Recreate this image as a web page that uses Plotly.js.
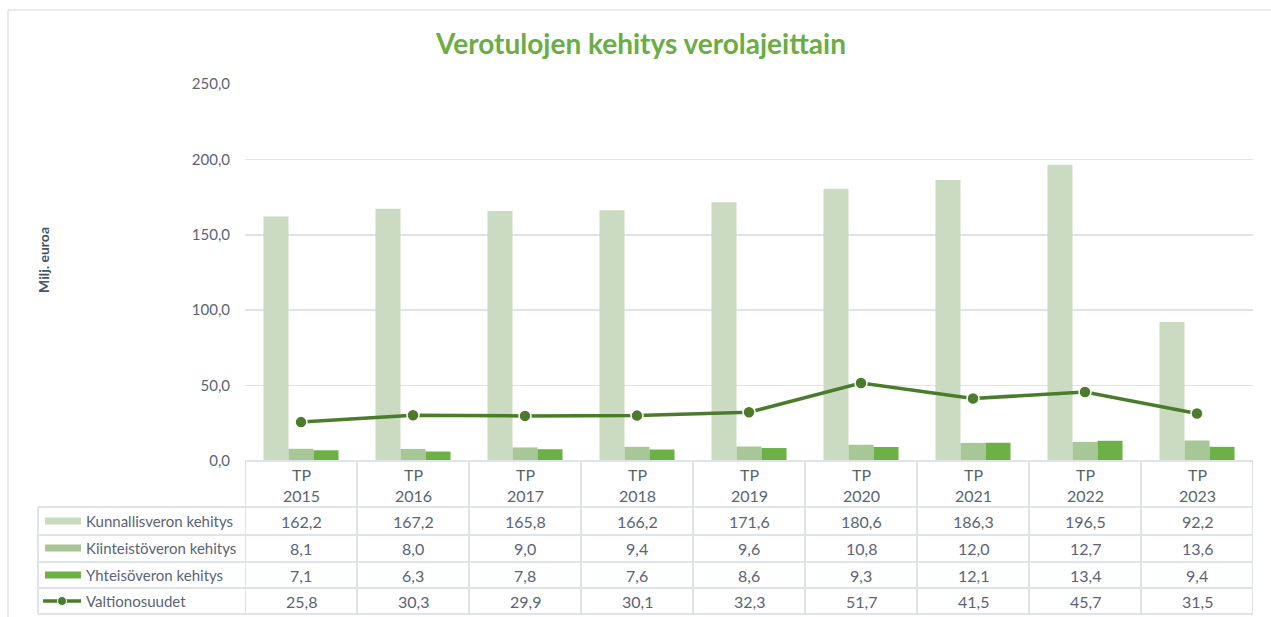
<!DOCTYPE html>
<html><head><meta charset="utf-8">
<script src="https://cdn.plot.ly/plotly-3.0.1.min.js"></script>
<style>html,body{margin:0;padding:0;background:#fff}#chart{width:1271px;height:617px}</style>
</head><body><div id="chart"></div><script>
// ---- data ----
const years = ['2015','2016','2017','2018','2019','2020','2021','2022','2023'];
const categoryPrefix = 'TP';
const kunnallisvero = [162.2,167.2,165.8,166.2,171.6,180.6,186.3,196.5,92.2];
const kiinteistovero = [8.1,8.0,9.0,9.4,9.6,10.8,12.0,12.7,13.6];
const yhteisovero = [7.1,6.3,7.8,7.6,8.6,9.3,12.1,13.4,9.4];
const valtionosuudet = [25.8,30.3,29.9,30.1,32.3,51.7,41.5,45.7,31.5];
const seriesNames = ['Kunnallisveron kehitys','Kiinteistöveron kehitys','Yhteisöveron kehitys','Valtionosuudet'];
const yTicks = [0,50,100,150,200,250];

// ---- style ----
const W = 1271, H = 617;
const L = 245, R = 1253, T = 84, B = 461;
const FONT = 'Lato, "Open Sans", sans-serif';
const TXT = '#5a6475';
const GRID = '#dfe3ea';
const cKun = '#cbdbc1', cKii = '#a7c796', cYht = '#6cb046', cVal = '#4b7c2c';
const px2x = p => (p - L) / (R - L);
const py2y = p => (B - p) / (B - T);
const fmt = v => v.toFixed(1).replace('.', ',');

const xcat = years;
const traces = [
  {type:'bar', name:seriesNames[0], x:xcat, y:kunnallisvero, marker:{color:cKun}, hoverinfo:'skip'},
  {type:'bar', name:seriesNames[1], x:xcat, y:kiinteistovero, marker:{color:cKii}, hoverinfo:'skip'},
  {type:'bar', name:seriesNames[2], x:xcat, y:yhteisovero, marker:{color:cYht}, hoverinfo:'skip'},
  {type:'scatter', mode:'lines+markers', name:seriesNames[3], x:xcat, y:valtionosuudet,
   line:{color:cVal, width:3.5}, marker:{size:12, color:cVal, line:{color:'#ffffff', width:1.5}}, hoverinfo:'skip'}
];

const rowsY = [521, 548, 575, 601];
const rowData = [kunnallisvero, kiinteistovero, yhteisovero, valtionosuudet];
const hLines = [507, 535, 562, 588, 614];

const shapes = [];
const annotations = [];
// outer frame
shapes.push({type:'line', xref:'paper', yref:'paper', x0:px2x(8), x1:px2x(1271), y0:py2y(10), y1:py2y(10), line:{color:GRID, width:1.5}});
shapes.push({type:'line', xref:'paper', yref:'paper', x0:px2x(8), x1:px2x(8), y0:py2y(10), y1:py2y(617), line:{color:GRID, width:1.5}});
// table top
shapes.push({type:'line', xref:'paper', yref:'paper', x0:0, x1:1, y0:py2y(461), y1:py2y(461), line:{color:GRID, width:2}});
hLines.forEach(p => shapes.push({type:'line', xref:'paper', yref:'paper', x0:px2x(38), x1:1, y0:py2y(p), y1:py2y(p), line:{color:GRID, width:2}}));
// verticals
for (let i = 0; i <= years.length; i++) {
  shapes.push({type:'line', xref:'x', yref:'paper', x0:i-0.5, x1:i-0.5, y0:py2y(461), y1:py2y(614), line:{color:GRID, width:2}});
}
shapes.push({type:'line', xref:'paper', yref:'paper', x0:px2x(38), x1:px2x(38), y0:py2y(507), y1:py2y(614), line:{color:GRID, width:2}});
// legend keys
const keyCols = [cKun, cKii, cYht];
keyCols.forEach((c, i) => shapes.push({type:'rect', xref:'paper', yref:'paper', x0:px2x(45), x1:px2x(81), y0:py2y(rowsY[i]-3.5), y1:py2y(rowsY[i]+3.5), line:{width:0}, fillcolor:c}));
shapes.push({type:'line', xref:'paper', yref:'paper', x0:px2x(43), x1:px2x(81), y0:py2y(rowsY[3]), y1:py2y(rowsY[3]), line:{color:cVal, width:3.5}});
shapes.push({type:'circle', xref:'paper', yref:'paper', x0:px2x(57.5), x1:px2x(66.5), y0:py2y(rowsY[3]-4.5), y1:py2y(rowsY[3]+4.5), line:{color:'#ffffff', width:1}, fillcolor:cVal});

// header labels
years.forEach((y, i) => {
  annotations.push({xref:'x', yref:'paper', x:i, y:py2y(474), text:categoryPrefix, showarrow:false, xanchor:'center', yanchor:'middle', font:{family:FONT, size:16, color:TXT}});
  annotations.push({xref:'x', yref:'paper', x:i, y:py2y(495), text:y, showarrow:false, xanchor:'center', yanchor:'middle', font:{family:FONT, size:16, color:TXT}});
});
// row labels and values
seriesNames.forEach((n, r) => {
  annotations.push({xref:'paper', yref:'paper', x:px2x(84), y:py2y(rowsY[r]), text:n, showarrow:false, xanchor:'left', yanchor:'middle', font:{family:FONT, size:15, color:TXT}});
  rowData[r].forEach((v, i) => annotations.push({xref:'x', yref:'paper', x:i, y:py2y(rowsY[r]), text:fmt(v), showarrow:false, xanchor:'center', yanchor:'middle', font:{family:FONT, size:16, color:TXT}}));
});
// y axis title
annotations.push({xref:'paper', yref:'paper', x:px2x(43), y:py2y(260), text:'<b>Milj. euroa</b>', textangle:-90, showarrow:false, xanchor:'center', yanchor:'middle', font:{family:FONT, size:14, color:'#44546a'}});

const layout = {
  width:W, height:H,
  margin:{l:L, r:W-R, t:T, b:H-B},
  paper_bgcolor:'#ffffff', plot_bgcolor:'#ffffff',
  separators:', ',
  showlegend:false,
  barmode:'group', bargap:0.33, bargroupgap:0,
  title:{text:'<b>Verotulojen kehitys verolajeittain</b>', x:(641/W), xanchor:'center', xref:'container', y:(H-44)/H, yanchor:'middle', yref:'container', font:{family:FONT, size:28, color:'#6aad45'}},
  xaxis:{type:'category', showticklabels:false, showgrid:false, zeroline:false, showline:false, ticks:'', range:[-0.5, years.length-0.5]},
  yaxis:{range:[0,250], tickvals:yTicks, tickformat:'.1f', showgrid:true, gridcolor:GRID, gridwidth:1.5, zeroline:false, showline:false, ticks:'', ticklabelstandoff:14, tickfont:{family:FONT, size:15, color:TXT}},
  shapes:shapes, annotations:annotations
};
Plotly.newPlot('chart', traces, layout, {displayModeBar:false, staticPlot:true});
</script></body></html>
